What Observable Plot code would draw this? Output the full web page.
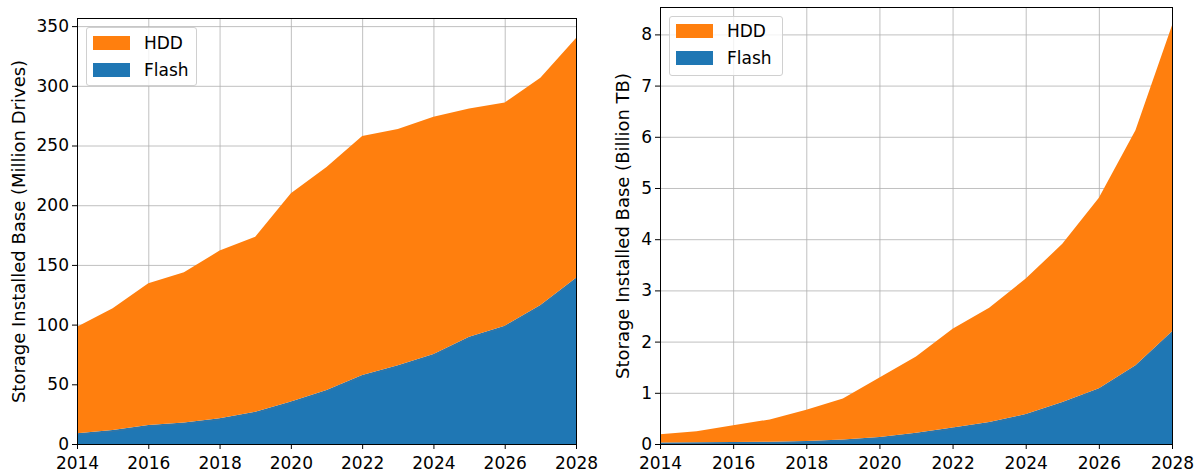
<!DOCTYPE html>
<html>
<head>
<meta charset="utf-8">
<script src="https://cdn.jsdelivr.net/npm/d3@7"></script>
<script src="https://cdn.jsdelivr.net/npm/@observablehq/plot@0.6"></script>
<style>
  html, body { margin: 0; padding: 0; background: #fff; }
  #wrap { position: relative; width: 1202px; height: 472px; font-family: "DejaVu Sans", sans-serif; }
  .panel { position: absolute; top: 0; }
  .legend { position: absolute; border: 1px solid #d0d0d0; border-radius: 3px; background: rgba(255,255,255,0.8); box-sizing: border-box; }
  .legend .row { position: absolute; height: 14px; }
  .legend .sw { position: absolute; left: 0; top: 0; width: 37px; height: 14px; }
  .legend .lb { position: absolute; left: 51px; top: 50%; transform: translateY(-50%); font-size: 17px; line-height: 1; color: #000; white-space: nowrap; }
</style>
</head>
<body>
<div id="wrap"></div>
<script>
const years = [2014, 2015, 2016, 2017, 2018, 2019, 2020, 2021, 2022, 2023, 2024, 2025, 2026, 2027, 2028];
const xTicks = [2014, 2016, 2018, 2020, 2022, 2024, 2026, 2028];

// Left panel: Million Drives
const drivesFlash = [9, 11.7, 15.9, 18, 21.5, 27.1, 35.5, 45.2, 57.8, 66, 75.4, 89.9, 99.1, 116.4, 139.3];
const drivesHDD   = [89.3, 101.9, 118.7, 125.8, 140.5, 146.5, 174.5, 186.8, 200.2, 197.8, 198.6, 191.1, 186.9, 190.4, 200.7];
const drivesTicks = [0, 50, 100, 150, 200, 250, 300, 350];

// Right panel: Billion TB
const tbFlash = [0.03, 0.035, 0.04, 0.045, 0.06, 0.09, 0.135, 0.22, 0.32, 0.43, 0.585, 0.82, 1.09, 1.54, 2.2];
const tbHDD   = [0.16, 0.215, 0.325, 0.435, 0.61, 0.8, 1.165, 1.49, 1.93, 2.23, 2.645, 3.09, 3.72, 4.59, 5.98];
const tbTicks = [0, 1, 2, 3, 4, 5, 6, 7, 8];

const seriesNames = ["Flash", "HDD"];
const seriesColors = ["#1f77b4", "#ff7f0e"];
const legendOrder = ["HDD", "Flash"];

function longData(flash, hdd) {
  const rows = [];
  years.forEach((y, i) => rows.push({year: y, type: "Flash", value: flash[i]}));
  years.forEach((y, i) => rows.push({year: y, type: "HDD", value: hdd[i]}));
  return rows;
}

function makePanel(cfg) {
  const data = longData(cfg.flash, cfg.hdd);
  const flashRows = data.filter(d => d.type === "Flash");
  return Plot.plot({
    width: cfg.width,
    height: 472,
    marginLeft: cfg.ml,
    marginRight: cfg.mr,
    marginTop: cfg.mt,
    marginBottom: 28,
    style: {fontFamily: "DejaVu Sans, sans-serif", fontSize: "17px", color: "#000", background: "#fff", overflow: "visible"},
    x: {domain: [2014, 2028]},
    y: {domain: [0, cfg.ymax]},
    color: {domain: seriesNames, range: seriesColors},
    marks: [
      Plot.gridX(xTicks, {stroke: "#b0b0b0", strokeOpacity: 1, strokeWidth: 0.8}),
      Plot.gridY(cfg.yTicks, {stroke: "#b0b0b0", strokeOpacity: 1, strokeWidth: 0.8}),
      Plot.areaY(data, {x: "year", y: "value", z: "type", fill: "type", fillOpacity: 1, order: null}),
      Plot.lineY(flashRows, {x: "year", y: "value", stroke: "#4f7391", strokeWidth: 1, strokeOpacity: 0.55, dy: 0.8}),
      Plot.axisX(xTicks, {tickSize: 5, tickPadding: 7, tickFormat: d => String(d), fontSize: "17px", label: null}),
      Plot.axisY(cfg.yTicks, {tickSize: 5, tickPadding: 3.5, tickFormat: d => String(d), fontSize: "17px", label: null}),
      Plot.axisY({ticks: [], tickSize: 0, label: cfg.label, labelAnchor: "center", labelArrow: "none",
        labelOffset: cfg.labelOffset, fontSize: "18px"}),
      Plot.frame({stroke: "#000", strokeWidth: 1})
    ]
  });
}

function makeLegend(parent, box) {
  const lg = document.createElement("div");
  lg.className = "legend";
  Object.assign(lg.style, {left: box.left + "px", top: box.top + "px", width: box.w + "px", height: box.h + "px"});
  legendOrder.forEach((name, i) => {
    const row = document.createElement("div");
    row.className = "row";
    Object.assign(row.style, {left: box.px + "px", top: (box.py + i * 27) + "px"});
    const sw = document.createElement("div");
    sw.className = "sw";
    sw.style.background = seriesColors[seriesNames.indexOf(name)];
    const lb = document.createElement("div");
    lb.className = "lb";
    lb.textContent = name;
    row.appendChild(sw);
    row.appendChild(lb);
    lg.appendChild(row);
  });
  parent.appendChild(lg);
}

const wrap = document.getElementById("wrap");

const left = document.createElement("div");
left.className = "panel";
left.style.left = "0px";
left.appendChild(makePanel({
  width: 600, ml: 77, mr: 24, mt: 18, ymax: 356.8,
  flash: drivesFlash, hdd: drivesHDD, yTicks: drivesTicks,
  label: "Storage Installed Base (Million Drives)", labelOffset: 65
}));
wrap.appendChild(left);

const right = document.createElement("div");
right.className = "panel";
right.style.left = "600px";
right.appendChild(makePanel({
  width: 602, ml: 60, mr: 30, mt: 7, ymax: 8.535,
  flash: tbFlash, hdd: tbHDD, yTicks: tbTicks,
  label: "Storage Installed Base (Billion TB)", labelOffset: 44
}));
wrap.appendChild(right);

makeLegend(wrap, {left: 86, top: 27, w: 111, h: 59, px: 6, py: 8});
makeLegend(wrap, {left: 669, top: 16, w: 114, h: 60, px: 6, py: 7});
</script>
</body>
</html>
